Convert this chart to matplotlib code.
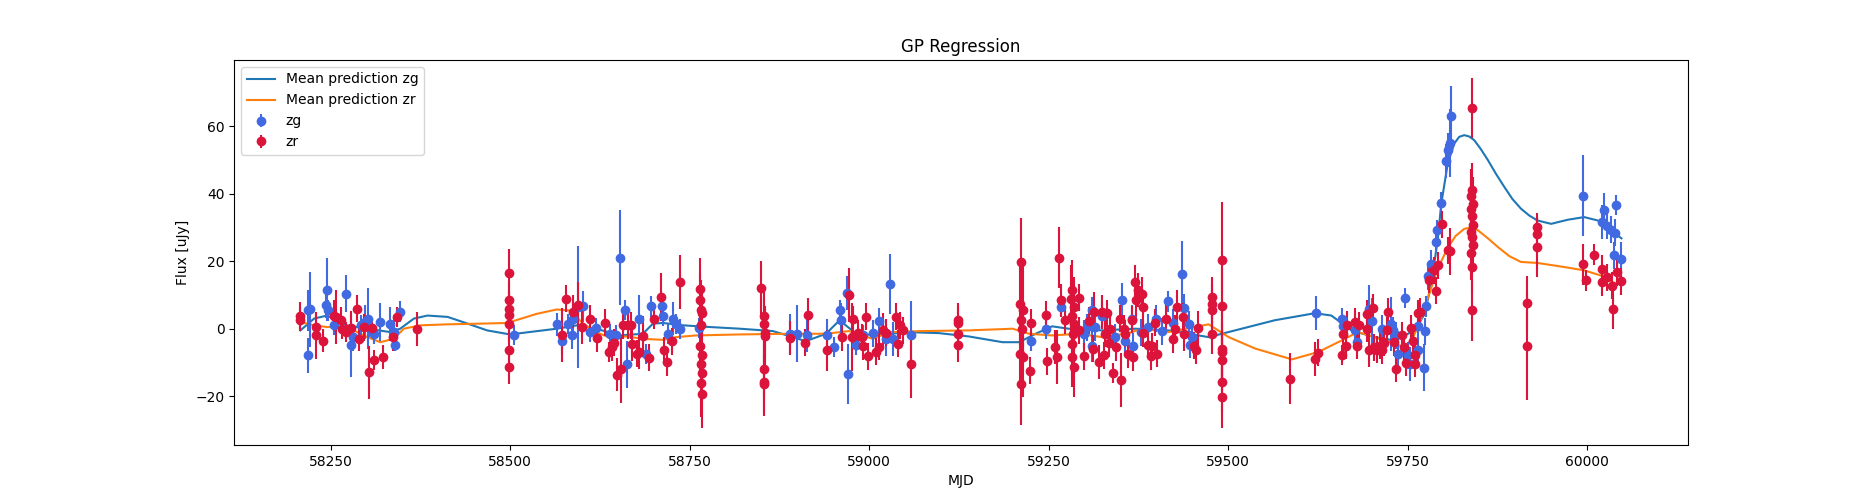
import matplotlib
matplotlib.use('Agg')
import matplotlib.pyplot as plt
import numpy as np

# observed points, zg band
zg_mjd = [58218, 58218, 58221, 58243, 58245, 58246, 58255, 58271, 58279, 58281,
          58292, 58298, 58302, 58304, 58310, 58319, 58333, 58338, 58340, 58347,
          58505, 58565, 58573, 58580, 58586, 58588, 58595, 58602, 58611, 58620,
          58639, 58647, 58653, 58660, 58663, 58679, 58689, 58696, 58711, 58713,
          58720, 58727, 58731, 58737, 58763, 58890, 58899, 58914, 58941, 58951,
          58960, 58961, 58969, 58971, 58982, 58991, 59005, 59014, 59023, 59029,
          59034, 59059, 59226, 59246, 59267, 59299, 59304, 59310, 59311, 59315,
          59324, 59343, 59352, 59357, 59366, 59368, 59379, 59389, 59399, 59408,
          59417, 59424, 59436, 59439, 59446, 59447, 59450, 59622, 59659, 59660,
          59677, 59680, 59697, 59700, 59714, 59727, 59730, 59734, 59737, 59747,
          59751, 59753, 59764, 59765, 59773, 59774, 59776, 59778, 59783, 59790,
          59791, 59797, 59804, 59807, 59809, 59811, 59994, 60021, 60023, 60028,
          60034, 60037, 60039, 60041, 60048]
zg_flux = [-7.9, 5.4, 5.7, 7.1, 11.6, 5.4, 1.0, 10.4, -4.9, -2.5,
           1.0, 2.0, 3.0, 0.5, -1.5, 2.0, 1.5, -1.0, -4.7, 5.1,
           -1.8, 1.3, -3.5, 1.3, -2.0, 3.0, 6.4, 6.6, -1.0, 0.3,
           -1.5, -2.0, 21.1, 5.6, -10.6, 3.0, -7.4, 6.6, 6.6, 3.9,
           -1.5, 3.0, 1.5, 0.0, 0.2, -1.5, -1.5, -2.0, -2.0, -5.5,
           5.6, 2.5, 10.6, -13.4, -4.7, -2.0, -1.3, 2.2, -3.0, 13.3,
           -3.0, -1.8, -3.7, 0.0, 6.4, -1.5, 0.5, -5.0, 5.4, 0.5,
           3.9, -2.5, 8.6, -3.5, 3.0, -5.2, -1.0, 0.5, 3.0, -0.8,
           8.1, 1.7, 16.1, 6.2, 1.3, -4.8, -2.5, 4.7, 3.0, 0.7,
           -0.5, -4.0, 5.9, 2.2, 0.0, 1.5, -0.5, -2.0, -7.4, 9.2,
           -7.9, -10.4, -6.4, 0.7, -11.6, -0.7, 6.6, 15.5, 19.3, 25.7,
           29.2, 37.4, 49.7, 53.1, 55.1, 63.0, 39.5, 31.6, 35.3, 30.6,
           29.4, 21.8, 28.5, 36.6, 20.6]
zg_err = [5.2, 6, 11, 4, 9.4, 3, 3, 5.4, 9.4, 4,
          3, 5, 9, 3, 3, 5.6, 5, 5, 2, 3,
          3, 3.5, 4, 3, 4, 5, 18, 4.5, 3, 3,
          3, 3, 14, 3, 7, 7, 3, 3, 3, 3,
          3, 5, 3, 3, 3, 6, 8.5, 5, 5, 3,
          3, 5, 5, 9, 3, 3, 4, 4, 5, 9,
          5, 10, 3, 3, 3, 4, 4, 5, 4, 4,
          4, 4, 5, 4, 4, 4, 4, 4, 4, 4,
          3, 4, 10, 4, 4, 4, 4, 5, 3, 3,
          3, 3, 7, 7, 4, 8, 4, 4, 4, 3,
          4, 5, 4, 4, 7, 4, 3, 4, 4, 3,
          3, 3, 5, 5, 10, 9, 12, 5, 5, 4,
          4, 4, 4, 3, 5]

# observed points, zr band
zr_mjd = [58208, 58208, 58229, 58229, 58240, 58255, 58257, 58265, 58266, 58271,
          58279, 58287, 58290, 58297, 58304, 58307, 58311, 58323, 58337, 58343,
          58370, 58499, 58499, 58499, 58499, 58499, 58499, 58499, 58573, 58578,
          58588, 58595, 58600, 58611, 58621, 58632, 58638, 58642, 58645, 58649,
          58654, 58657, 58664, 58669, 58670, 58677, 58680, 58685, 58693, 58700,
          58710, 58715, 58719, 58726, 58737, 58764, 58765, 58766, 58767, 58766,
          58765, 58767, 58766, 58767, 58766, 58767, 58849, 58853, 58854, 58855,
          58855, 58853, 58854, 58853, 58890, 58911, 58915, 58941, 58963, 58972,
          58976, 58978, 58984, 58990, 58992, 58996, 58998, 59009, 59014, 59019,
          59024, 59038, 59041, 59043, 59047, 59059, 59124, 59124, 59124, 59124,
          59212, 59210, 59214, 59211, 59213, 59210, 59215, 59212, 59224, 59226,
          59246, 59248, 59259, 59262, 59264, 59267, 59273, 59283, 59281, 59285,
          59282, 59286, 59284, 59283, 59282, 59285, 59292, 59293, 59299, 59307,
          59312, 59314, 59320, 59324, 59327, 59329, 59331, 59334, 59336, 59340,
          59344, 59349, 59351, 59355, 59357, 59361, 59366, 59368, 59371, 59372,
          59375, 59380, 59381, 59382, 59389, 59393, 59394, 59398, 59401, 59413,
          59423, 59426, 59429, 59437, 59439, 59452, 59456, 59458, 59478, 59478,
          59478, 59478, 59491, 59491, 59491, 59491, 59491, 59491, 59491, 59587,
          59621, 59626, 59659, 59660, 59664, 59666, 59677, 59680, 59683, 59693,
          59694, 59696, 59702, 59703, 59707, 59711, 59714, 59717, 59721, 59723,
          59731, 59734, 59743, 59745, 59748, 59755, 59757, 59760, 59760, 59765,
          59768, 59780, 59787, 59790, 59792, 59798, 59806, 59809, 59840, 59840,
          59839, 59841, 59839, 59840, 59841, 59839, 59840, 59841, 59839, 59840,
          59840, 59916, 59916, 59931, 59931, 59931, 59994, 59999, 60010, 60021,
          60021, 60028, 60035, 60036, 60042, 60048]
zr_flux = [3.9, 2.7, 0.5, -2.0, -3.5, 3.9, 3.5, 2.5, 0.0, -1.0,
           0.2, 5.9, -3.0, 0.5, -12.9, 0.2, -9.2, -8.4, -2.5, 3.5,
           0.0, 16.6, 8.6, 5.9, 4.1, 1.5, -6.2, -11.4, -2.0, 8.9,
           5.1, 6.9, 0.5, 3.0, -2.8, 1.8, -6.9, -5.5, -4.2, -13.6,
           -11.9, 1.0, 1.0, 1.0, -4.5, -7.4, -6.9, -2.3, -8.6, 3.0,
           9.4, -6.4, -9.9, -3.7, 13.8, 11.9, 8.6, 5.4, 4.6, 1.0,
           -5.0, -7.7, -10.4, -13.2, -16.1, -19.3, 12.2, 3.9, 1.3, -1.3,
           -2.3, -11.9, -15.8, -16.3, -2.8, -4.2, 4.2, -6.4, -2.5, 9.9,
           -2.5, 2.8, -1.3, -2.5, -5.2, 3.6, -8.1, -6.9, -5.3, -0.3,
           -1.2, 3.6, -4.5, 1.0, -0.5, -10.6, 2.6, 1.7, -1.7, -4.8,
           19.8, 7.2, 5.4, 2.7, 0.0, -7.4, -8.4, -16.5, -12.4, 1.8,
           4.2, -9.7, -5.5, -8.4, 21.1, 8.4, 2.5, 11.4, 8.9, 6.4,
           3.9, 1.3, -1.5, -4.5, -8.4, -11.4, -0.5, 9.2, -8.1, 2.3,
           -5.9, 4.9, -9.9, 4.9, -7.9, -1.5, 4.6, -4.3, 0.0, -13.2,
           -5.5, 3.0, -15.2, 0.0, -1.5, -7.6, 2.7, -8.4, 13.8, 8.4,
           11.4, 10.4, 6.4, -1.3, -4.7, -8.2, -5.2, 1.7, -7.4, 3.0,
           -3.2, 0.0, 6.4, 3.5, -1.5, -5.0, -6.4, 0.3, 9.4, 7.4,
           5.4, -1.5, 20.5, 6.6, -5.9, -6.9, -9.4, -15.8, -20.3, -14.8,
           -8.9, -7.2, -7.9, -1.7, -5.0, 1.2, 2.0, -5.0, 1.0, 4.4,
           0.0, -6.4, 6.2, -5.5, -6.2, -5.0, -6.4, -4.2, -0.5, 5.0,
           -4.0, -11.9, -2.0, -5.3, -10.1, 0.2, -3.5, -7.9, -10.4, 4.6,
           5.0, 14.5, 17.3, 11.2, 18.8, 31.0, 23.2, 23.0, 65.5, 41.0,
           39.5, 37.1, 35.6, 33.4, 30.7, 28.7, 27.2, 24.7, 22.4, 18.3,
           5.4, 7.7, -5.2, 30.2, 28.2, 24.2, 19.1, 14.3, 22.0, 17.8,
           13.8, 15.3, 12.8, 5.9, 16.8, 14.0]
zr_err = [4, 3.5, 4, 7, 3.5, 4.5, 8, 4, 3, 3,
          5, 4, 3.5, 4, 7.8, 3, 3, 3.5, 4, 3,
          5, 7, 5, 5, 5, 5, 5, 5, 8, 4,
          5, 7, 5, 4, 4, 4, 3, 4, 4, 5,
          10, 4, 4, 4, 5, 4, 5, 6, 4, 3,
          7, 4, 4, 4, 8, 9, 8, 9, 7, 8,
          9, 8, 9, 8, 10, 10, 8, 7, 8, 7,
          9, 8, 10, 9, 5, 4, 5, 6, 4, 8,
          10, 4, 4, 4, 4, 4, 4, 4, 4, 5,
          4, 4, 4, 4, 4, 10, 5, 5, 5, 5,
          13, 12, 14, 10, 12, 10, 12, 12, 4, 4,
          4, 4, 5, 8, 9, 5, 4, 9, 10, 9,
          10, 8, 9, 10, 9, 9, 4, 4, 4, 4,
          4, 6, 5, 5, 4, 4, 4, 4, 4, 3,
          4, 4, 8, 4, 4, 4, 4, 4, 5, 6,
          5, 5, 5, 4, 4, 4, 4, 4, 4, 4,
          4, 4, 5, 4, 5, 4, 4, 5, 6, 6,
          6, 6, 17, 11, 9, 9, 9, 9, 9, 7.5,
          5, 4, 3, 5, 4, 4, 4, 4, 4, 4,
          4, 5, 4, 4, 4, 4, 4, 4, 4, 4,
          4, 4, 4, 4, 4, 4, 4, 4, 4, 4,
          4, 4, 4, 4, 4, 4, 4, 7, 9, 8,
          8, 8, 8, 8, 8, 8, 8, 8, 8, 8,
          9, 8, 16, 4, 4, 9, 6, 3, 3, 4,
          4, 4, 4, 6, 4, 4]

# GP mean predictions
zg_pred_mjd = [58208, 58227, 58245, 58273, 58301, 58333, 58347, 58366, 58385, 58413,
               58441, 58468, 58500, 58565, 58593, 58620, 58653, 58685, 58699, 58713,
               58741, 58778, 58820, 58866, 58912, 58940, 58959, 58982, 59014, 59051,
               59097, 59139, 59186, 59209, 59232, 59255, 59278, 59325, 59371, 59417,
               59473, 59519, 59565, 59621, 59644, 59672, 59704, 59732, 59760, 59774,
               59783, 59792, 59797, 59806, 59815, 59822, 59829, 59836, 59843, 59852,
               59862, 59873, 59885, 59896, 59908, 59920, 59931, 59950, 59973, 59996,
               60015, 60034, 60048]
zg_pred = [-0.5, 3.0, 3.9, 1.0, 0.0, -1.0, 0.0, 3.0, 3.9, 3.5,
           1.5, -0.5, -1.7, 0.0, 1.0, 0.0, -2.0, -1.5, 1.5, 1.7,
           1.0, 0.5, 0.0, -0.7, -3.7, -1.5, 2.5, -1.5, -2.0, -1.0,
           -1.3, -2.3, -4.0, -4.0, -1.5, 0.7, 0.0, -0.5, 0.0, -0.5,
           -2.5, 0.0, 2.5, 4.6, 3.9, -0.5, -2.5, -3.5, -0.5, 4.4,
           13.3, 26.2, 37.0, 48.9, 54.9, 56.9, 57.4, 57.0, 55.9, 53.3,
           50.0, 46.0, 42.0, 38.5, 35.6, 33.5, 32.1, 31.1, 32.3, 33.1,
           32.1, 29.0, 26.8]

zr_pred_mjd = [58208, 58227, 58245, 58273, 58296, 58319, 58338, 58352, 58375, 58413,
               58459, 58496, 58537, 58565, 58583, 58602, 58620, 58639, 58662, 58685,
               58713, 58731, 58759, 58820, 58889, 58940, 58972, 59005, 59028, 59074,
               59139, 59200, 59223, 59255, 59292, 59325, 59362, 59380, 59417, 59473,
               59501, 59538, 59589, 59626, 59658, 59681, 59704, 59732, 59746, 59758,
               59769, 59779, 59788, 59797, 59806, 59817, 59829, 59838, 59848, 59862,
               59876, 59892, 59908, 59931, 59968, 59996, 60019, 60034, 60048]
zr_pred = [2.0, 1.0, 0.5, 0.5, -2.0, -4.0, -3.0, 0.0, 1.0, 1.3,
           1.5, 1.7, 4.4, 5.7, 5.4, 1.5, -1.0, -2.7, -2.3, -3.0,
           -3.3, -2.5, -2.0, -1.7, -1.5, -1.5, -0.7, -3.0, -1.0, -0.7,
           -0.5, 0.0, -1.5, -2.0, -1.5, -2.5, -1.3, 0.0, -1.0, 1.3,
           -2.5, -5.9, -9.1, -6.9, -3.5, -1.0, -2.5, -4.5, -5.5, -2.5,
           3.0, 9.5, 15.3, 20.0, 24.0, 27.5, 29.6, 30.0, 29.2, 26.8,
           24.2, 21.5, 19.8, 19.5, 18.3, 17.3, 15.8, 13.8, 13.3]

fig, ax = plt.subplots(figsize=(18.75, 5), dpi=100)

ax.plot(zg_pred_mjd, zg_pred, color='tab:blue', label='Mean prediction zg')
ax.plot(zr_pred_mjd, zr_pred, color='tab:orange', label='Mean prediction zr')
ax.errorbar(zg_mjd, zg_flux, yerr=zg_err, fmt='o', color='royalblue', label='zg')
ax.errorbar(zr_mjd, zr_flux, yerr=zr_err, fmt='o', color='crimson', label='zr')

ax.set_xlabel('MJD')
ax.set_ylabel('Flux [uJy]')
ax.set_title('GP Regression')
ax.legend(loc='upper left')

fig.savefig('out.png')
